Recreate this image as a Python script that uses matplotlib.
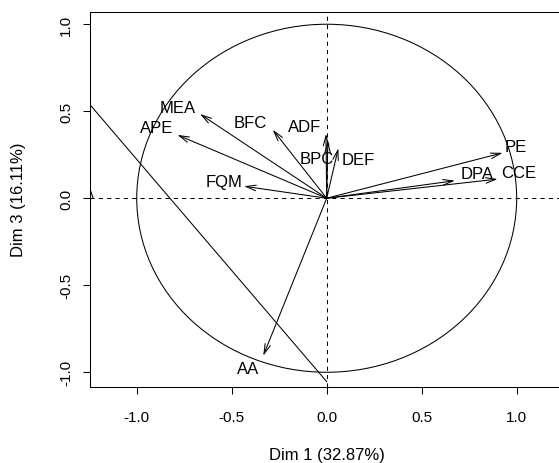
import numpy as np
import matplotlib
matplotlib.use("Agg")
import matplotlib.pyplot as plt
from matplotlib.patches import Circle

plt.rcParams['font.family'] = ['Liberation Sans', 'DejaVu Sans']
plt.rcParams['lines.scale_dashes'] = False

# variable coordinates on Dim 1 / Dim 3
var_names = ["MEA", "APE", "FQM", "BFC", "ADF", "BPC", "DEF", "PE", "DPA", "CCE", "AA"]
dim1 = [-0.667, -0.786, -0.435, -0.284, -0.004, 0.006, 0.061, 0.926, 0.675, 0.900, -0.334]
dim3 = [0.484, 0.364, 0.069, 0.394, 0.370, 0.330, 0.287, 0.261, 0.101, 0.110, -0.905]

# label offsets from arrow tips (pixels)
lab_off = [(-22, 7), (-21, 7), (-20, 5), (-22, 7), (-21, 7), (-11, -18),
           (20, -11), (13, 6), (22, 7), (21, 7), (-15, -13)]

# extra line segments
seg1_x = [-1.5, 0.0]
seg1_y = [0.862, -1.054]
seg2_x = [-1.26, -1.230]
seg2_y = [0.098, 0.002]

xticks = [-1.0, -0.5, 0.0, 0.5, 1.0]
yticks = [-1.0, -0.5, 0.0, 0.5, 1.0]
tick_labels = ["-1.0", "-0.5", "0.0", "0.5", "1.0"]

W, H = 559, 464
fig = plt.figure(figsize=(W / 100, H / 100), dpi=100)
left, right, top, bottom = 90, 563.4, 12.7, 387.7
ax = fig.add_axes([left / W, 1 - bottom / H, (right - left) / W, (bottom - top) / H])
ax.set_xlim(-1.246, 1.246)
ax.set_ylim(-1.083, 1.072)

ax.add_patch(Circle((0, 0), 1, fill=False, lw=0.75, color='black'))
ax.axhline(0, color='black', lw=0.75, ls=(0, (3, 3)))
ax.axvline(0, color='black', lw=0.75, ls=(0, (3, 3)))

ax.plot(seg1_x, seg1_y, color='black', lw=0.75)
ax.plot(seg2_x, seg2_y, color='black', lw=0.75)

for name, x, y, (dx, dy) in zip(var_names, dim1, dim3, lab_off):
    ax.annotate('', xy=(x, y), xytext=(0, 0),
                arrowprops=dict(arrowstyle='->,head_length=0.72,head_width=0.2',
                                lw=0.75, color='black', shrinkA=0, shrinkB=0,
                                mutation_scale=10))
    ax.annotate(name, xy=(x, y), xytext=(dx * 0.72, dy * 0.72),
                textcoords='offset points', ha='center', va='center', fontsize=12)

ax.set_xticks(xticks)
ax.set_xticklabels(tick_labels)
ax.set_yticks(yticks)
ax.set_yticklabels(tick_labels, rotation=90, va='center')
ax.tick_params(direction='out', length=5, width=0.75, labelsize=11, color='black')
ax.tick_params(axis='x', pad=12)
ax.tick_params(axis='y', pad=7)
for s in ['left', 'bottom', 'top', 'right']:
    ax.spines[s].set_linewidth(0.75)

ax.set_xlabel("Dim 1 (32.87%)", fontsize=12, va='center')
ax.set_ylabel("Dim 3 (16.11%)", fontsize=12, va='center')
ax.xaxis.set_label_coords(0.5, -0.182)
ax.yaxis.set_label_coords(-0.151, 0.5)

fig.savefig("out.png", dpi=100)
